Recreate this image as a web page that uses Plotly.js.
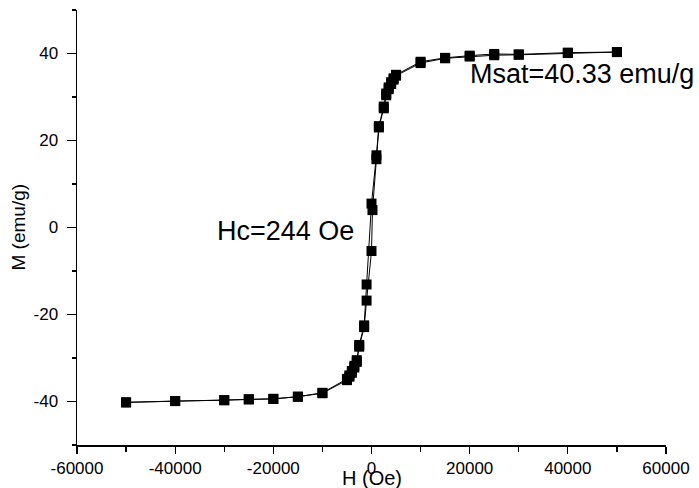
<!DOCTYPE html>
<html>
<head>
<meta charset="utf-8">
<script src="https://cdn.plot.ly/plotly-3.0.1.min.js"></script>
<style>html,body{margin:0;padding:0;background:#fff;}#chart{width:699px;height:488px;}</style>
</head>
<body>
<div id="chart"></div>
<script>
// Descending branch (H from +50000 to -50000)
const H_desc = [50000, 40000, 30000, 25000, 20000, 15000, 10000, 5000, 4500, 4000, 3500, 3000, 2500, 1500, 1000, 0, -1000, -1500, -2500, -3000, -3500, -4000, -4500, -5000, -10000, -15000, -20000, -25000, -30000, -40000, -50000];
const M_desc = [40.33, 40.2, 39.8, 39.9, 39.5, 39.0, 38.1, 35.1, 34.3, 33.4, 32.2, 30.8, 27.8, 23.3, 16.6, 5.5, -13.1, -22.5, -27.0, -30.5, -31.8, -33.0, -34.0, -34.8, -38.0, -38.9, -39.4, -39.5, -39.7, -39.9, -40.2];
// Ascending branch (H from -50000 to +50000)
const H_asc = [-50000, -40000, -30000, -25000, -20000, -15000, -10000, -5000, -4500, -4000, -3500, -3000, -2500, -1500, -1000, 0, 200, 1000, 1500, 2500, 3000, 3500, 4000, 4500, 5000, 10000, 15000, 20000, 25000, 30000, 40000, 50000];
const M_asc = [-40.2, -39.9, -39.7, -39.5, -39.4, -38.9, -38.1, -35.1, -34.3, -33.4, -32.2, -30.9, -27.4, -22.9, -16.8, -5.4, 4.0, 15.7, 23.0, 27.4, 30.4, 31.8, 33.0, 34.0, 34.9, 37.8, 38.9, 39.3, 39.6, 39.7, 40.1, 40.33];

const xTickVals = [-60000, -40000, -20000, 0, 20000, 40000, 60000];
const xTickText = ['-60000', '-40000', '-20000', '0', '20000', '40000', '60000'];
const yTickVals = [-40, -20, 0, 20, 40];
const yTickText = ['-40', '-20', '0', '20', '40'];

const xTitle = 'H (Oe)';
const yTitle = 'M (emu/g)';
const msatLabel = 'Msat=40.33 emu/g';
const hcLabel = 'Hc=244 Oe';

const FONT = 'Arial, "Liberation Sans", Helvetica, sans-serif';

const lineStyle = {color: '#000', width: 1};
const markerStyle = {symbol: 'square', size: 10, color: '#000'};

const traces = [
  {x: H_desc, y: M_desc, type: 'scatter', mode: 'lines+markers', line: lineStyle, marker: markerStyle, showlegend: false, cliponaxis: false},
  {x: H_asc, y: M_asc, type: 'scatter', mode: 'lines+markers', line: lineStyle, marker: markerStyle, showlegend: false, cliponaxis: false}
];

const layout = {
  width: 699, height: 488,
  margin: {l: 77, r: 33, t: 10, b: 43, pad: 0},
  paper_bgcolor: '#fff', plot_bgcolor: '#fff',
  font: {family: FONT, color: '#000', size: 17},
  showlegend: false,
  xaxis: {
    range: [-60000, 60000], tickmode: 'array', tickvals: xTickVals, ticktext: xTickText,
    ticks: 'outside', ticklen: 7, tickwidth: 1.3, tickcolor: '#000',
    showline: true, linecolor: '#000', linewidth: 1.5,
    showgrid: false, zeroline: false, automargin: false,
    tickfont: {family: FONT, size: 17, color: '#000'},
    minor: {tickmode: 'linear', tick0: 0, dtick: 10000, ticks: 'outside', ticklen: 5, tickwidth: 1.3, tickcolor: '#000', showgrid: false}
  },
  yaxis: {
    range: [-50, 50], tickmode: 'array', tickvals: yTickVals, ticktext: yTickText,
    ticks: 'outside', ticklen: 9, tickwidth: 1.3, tickcolor: '#000',
    ticklabelstandoff: 5,
    showline: true, linecolor: '#000', linewidth: 1.5,
    showgrid: false, zeroline: false, automargin: false,
    tickfont: {family: FONT, size: 17, color: '#000'},
    minor: {tickmode: 'linear', tick0: 0, dtick: 10, ticks: 'outside', ticklen: 4, tickwidth: 1.3, tickcolor: '#000', showgrid: false}
  },
  annotations: [
    {text: xTitle, xref: 'x', yref: 'paper', x: 0, y: 0, yshift: -33, xanchor: 'center', yanchor: 'middle', showarrow: false, font: {family: FONT, size: 20, color: '#000'}},
    {text: yTitle, xref: 'paper', yref: 'y', x: 0, xshift: -59, y: 0, textangle: -90, xanchor: 'center', yanchor: 'middle', showarrow: false, font: {family: FONT, size: 19, color: '#000'}},
    {text: msatLabel, xref: 'x', yref: 'y', x: 19700, y: 35.2, xanchor: 'left', yanchor: 'middle', showarrow: false, font: {family: FONT, size: 27, color: '#000'}},
    {text: hcLabel, xref: 'x', yref: 'y', x: -31800, y: -0.9, xanchor: 'left', yanchor: 'middle', showarrow: false, font: {family: FONT, size: 27, color: '#000'}}
  ]
};

Plotly.newPlot('chart', traces, layout, {displayModeBar: false, staticPlot: true});
</script>
</body>
</html>
